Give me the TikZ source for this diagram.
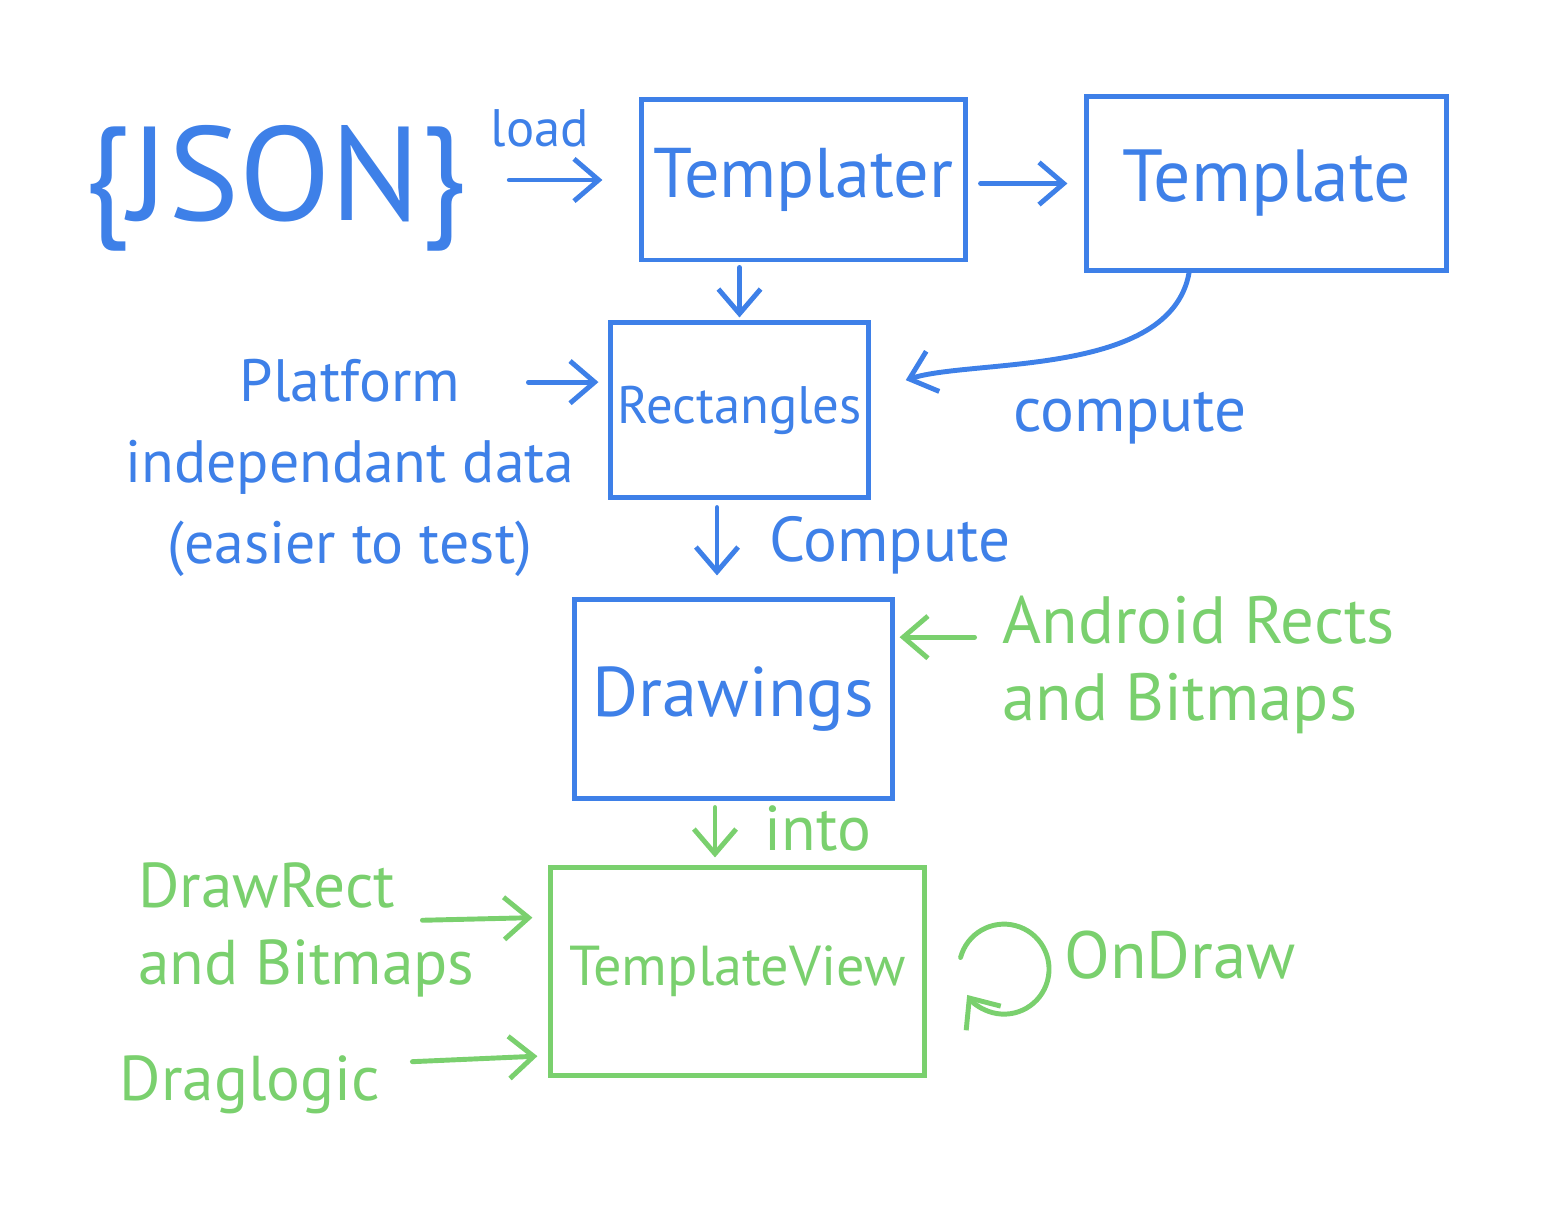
\documentclass[tikz,border=0pt]{standalone}
\usepackage{fontspec}
\setmainfont{PT Sans}
\usetikzlibrary{arrows.meta,positioning}
\definecolor{penblue}{RGB}{62,128,232}
\definecolor{pengreen}{RGB}{122,208,110}

\begin{document}
\begin{tikzpicture}[x=0.01cm,y=0.01cm,
  >={Straight Barb[length=7pt,width=12pt]},
  bluebox/.style={draw=penblue,line width=1.4pt,text=penblue,inner sep=0pt},
  greenbox/.style={draw=pengreen,line width=1.4pt,text=pengreen,inner sep=0pt},
  bluetxt/.style={text=penblue,font=\fontsize{18}{24}\selectfont},
  greentxt/.style={text=pengreen,font=\fontsize{18}{22}\selectfont},
  blueline/.style={draw=penblue,line width=1.4pt,line cap=round},
  greenline/.style={draw=pengreen,line width=1.4pt,line cap=round}]
\useasboundingbox (0,0) rectangle (1544,-1222);

% boxes
\node[bluebox,minimum width=3.23cm,minimum height=1.60cm,font=\fontsize{20}{24}\selectfont] (templater) at (803.5,-180) {Templater};
\node[bluebox,minimum width=3.59cm,minimum height=1.73cm,font=\fontsize{21}{24}\selectfont] (template) at (1266.5,-183.5) {Template};
\node[bluebox,minimum width=2.57cm,minimum height=1.74cm,font=\fontsize{15}{20}\selectfont] (rects) at (739.5,-410) {Rectangles};
\node[bluebox,minimum width=3.17cm,minimum height=1.98cm,font=\fontsize{20}{24}\selectfont] (drawings) at (733.5,-699) {Drawings};
\node[greenbox,minimum width=3.73cm,minimum height=2.07cm,font=\fontsize{16}{20}\selectfont] (tview) at (737.5,-971.5) {TemplateView};

% texts
\node[bluetxt,font=\fontsize{38}{42}\selectfont] (json) at (275,-188) {\{JSON\}};
\node[bluetxt,font=\fontsize{15}{18}\selectfont] (load) at (540,-128) {load};
\node[bluetxt,align=center,font=\fontsize{17}{23}\selectfont] (platform) at (350,-468)
  {Platform\\independant data\\(easier to test)};
\node[bluetxt] (compute) at (1130,-418) {compute};
\node[bluetxt] (compute2) at (890,-545) {Compute};
\node[greentxt,align=left,anchor=west,font=\fontsize{19}{22}\selectfont] (android) at (990,-665) {Android Rects\\and Bitmaps};
\node[greentxt] (into) at (818,-828) {into};
\node[greentxt,align=left,anchor=west] (drawrect) at (126,-930) {DrawRect\\and Bitmaps};
\node[greentxt] (draglogic) at (250,-1085) {Draglogic};
\node[greentxt,font=\fontsize{19}{22}\selectfont] (ondraw) at (1180,-955) {OnDraw};

% blue connectors
\draw[blueline,->,shorten <=0.3cm,shorten >=0.37cm] (json.east |- templater.west) -- (templater.west);
\draw[blueline,->,shorten <=0.13cm,shorten >=0.17cm] (templater.east |- template.west) -- (template.west);
\draw[blueline,->,shorten <=0.05cm,shorten >=0.03cm] (templater.south -| rects.north) -- (rects.north);
\draw[blueline,->,shorten >=0.37cm] (template.-131) to[out=-100,in=18,looseness=0.8] (rects.8);
\draw[blueline,->,shorten >=0.1cm] (rects.168) ++(-80,0) -- (rects.168);
\draw[blueline,->,shorten <=0.08cm,shorten >=0.22cm] (rects.south -| 717,0) -- (drawings.north -| 717,0);

% green connectors
\draw[greenline,->,shorten >=0.05cm] (drawings.21) ++(80,0) -- (drawings.21);
\draw[greenline,->,shorten <=0.07cm,shorten >=0.08cm] (drawings.south -| 715,0) -- (tview.north -| 715,0);
\draw[greenline,->,shorten >=0.16cm] (tview.164) ++(-126,-3) -- (tview.164);
\draw[greenline,->,shorten >=0.11cm] (tview.204) ++(-136,-6) -- (tview.204);
\draw[greenline,->] (tview.east) ++(34,14) arc[start angle=165,end angle=-145,radius=45];

\end{tikzpicture}
\end{document}
